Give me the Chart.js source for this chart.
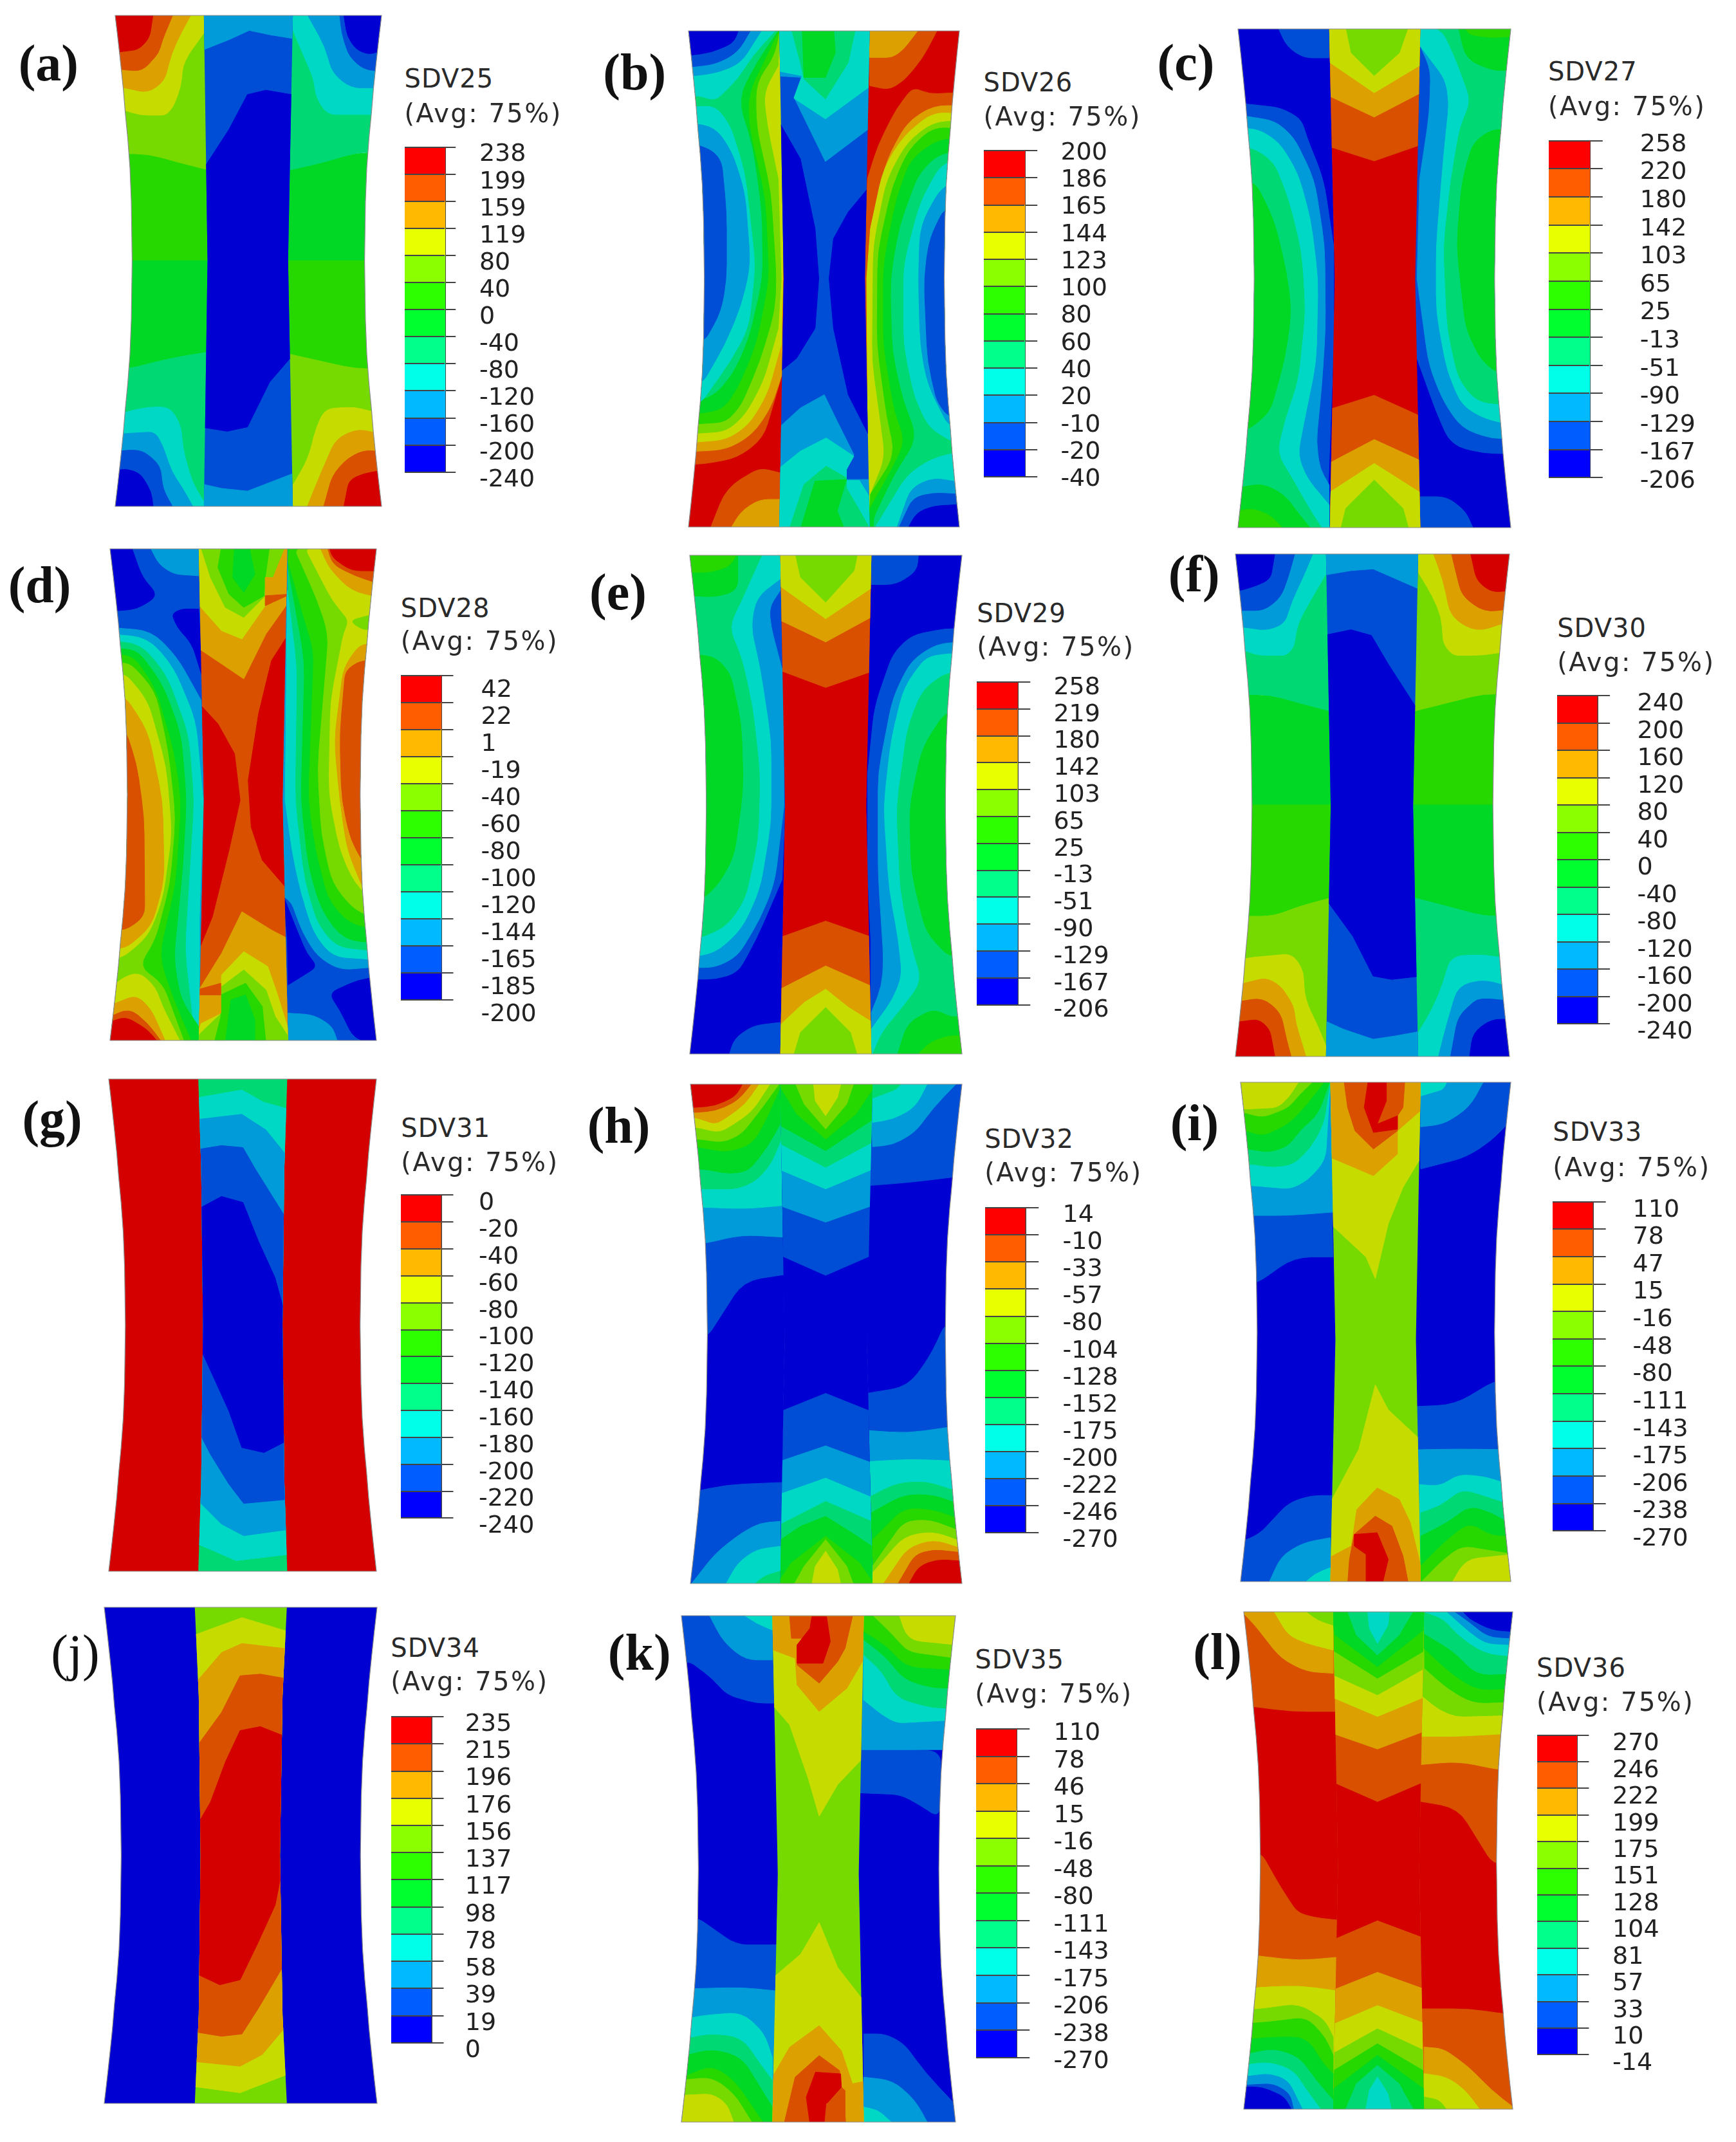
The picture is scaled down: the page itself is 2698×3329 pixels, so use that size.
<!DOCTYPE html>
<html>
<head>
<meta charset="utf-8">
<title>SDV25-SDV36</title>
<script src="https://cdn.jsdelivr.net/npm/chart.js"></script>
<style>
html,body{margin:0;background:#fff}
#page{position:relative;width:2698px;height:3329px;overflow:hidden;background:#fff}
#page canvas{position:absolute}
.letter{position:absolute;font:bold 80px "Liberation Serif",serif;line-height:1;color:#111;transform:translateY(-50%)}
.sdv{position:absolute;font:40px "DejaVu Sans",sans-serif;line-height:1;color:#2a2a2a;letter-spacing:1px;white-space:nowrap;transform:translateY(-50%)}
.sdv.avg{letter-spacing:2.5px}
</style>
</head>
<body>
<div id="page"></div>
<script>
const panelLetters = ['(a)','(b)','(c)','(d)','(e)','(f)','(g)','(h)','(i)','(j)','(k)','(l)'];
const sdvNames = ['SDV25','SDV26','SDV27','SDV28','SDV29','SDV30','SDV31','SDV32','SDV33','SDV34','SDV35','SDV36'];

const ticksA = ['238','199','159','119','80','40','0','-40','-80','-120','-160','-200','-240'];
const ticksB = ['200','186','165','144','123','100','80','60','40','20','-10','-20','-40'];
const ticksC = ['258','220','180','142','103','65','25','-13','-51','-90','-129','-167','-206'];
const ticksD = ['42','22','1','-19','-40','-60','-80','-100','-120','-144','-165','-185','-200'];
const ticksE = ['258','219','180','142','103','65','25','-13','-51','-90','-129','-167','-206'];
const ticksF = ['240','200','160','120','80','40','0','-40','-80','-120','-160','-200','-240'];
const ticksG = ['0','-20','-40','-60','-80','-100','-120','-140','-160','-180','-200','-220','-240'];
const ticksH = ['14','-10','-33','-57','-80','-104','-128','-152','-175','-200','-222','-246','-270'];
const ticksI = ['110','78','47','15','-16','-48','-80','-111','-143','-175','-206','-238','-270'];
const ticksJ = ['235','215','196','176','156','137','117','98','78','58','39','19','0'];
const ticksK = ['110','78','46','15','-16','-48','-80','-111','-143','-175','-206','-238','-270'];
const ticksL = ['270','246','222','199','175','151','128','104','81','57','33','10','-14'];

// contour bands: [level, x,y, x,y, ...] painted in order, later ones on top
// 'mid' marks where the middle ply starts; its first band is the outline of that ply
const bandsA = [
[7, 300,40, 552,40, 562,520, 300,520],
[6, 300,465, 400,465, 480,490, 562,513, 562,785, 300,785],
[8, 300,40, 552,40, 552,100, 510,165, 495,200, 490,260, 470,320, 450,347, 380,347, 330,330, 300,320],
[9, 300,40, 520,40, 490,100, 465,160, 445,245, 400,280, 340,265, 300,260],
[10, 300,40, 470,40, 440,120, 430,160, 385,215, 330,210, 300,205],
[11, 300,40, 415,40, 405,115, 375,150, 335,155, 300,160],
[5, 300,785, 562,785, 562,1060, 480,1075, 420,1090, 350,1110, 300,1110],
[4, 300,1105, 350,1110, 420,1090, 480,1075, 562,1060, 552,1530, 300,1530],
[3, 300,1260, 340,1240, 400,1225, 460,1225, 490,1280, 495,1350, 520,1450, 552,1510, 552,1530, 300,1530],
[2, 300,1310, 335,1305, 420,1300, 440,1340, 465,1420, 495,1470, 525,1530, 300,1530],
[1, 300,1365, 335,1355, 385,1355, 435,1400, 440,1470, 470,1530, 300,1530],
[0, 300,1420, 340,1410, 380,1425, 410,1480, 415,1530, 300,1530],
[4, 780,40, 1040,40, 1040,460, 970,460, 880,490, 780,515],
[5, 780,515, 880,490, 960,462, 1040,460, 1040,785, 780,785],
[6, 780,785, 1040,785, 1040,1110, 960,1110, 880,1090, 780,1065],
[7, 780,1065, 880,1090, 960,1110, 1040,1110, 1040,1530, 793,1530],
[8, 793,1460, 835,1380, 855,1290, 880,1230, 960,1225, 1010,1240, 1040,1240, 1040,1530, 793,1530],
[9, 830,1530, 870,1420, 910,1320, 970,1290, 1040,1310, 1040,1530],
[10, 875,1530, 900,1430, 940,1380, 985,1355, 1040,1360, 1040,1530],
[11, 930,1530, 945,1445, 985,1425, 1040,1415, 1040,1530],
[3, 793,40, 1040,40, 1040,345, 885,345, 855,290, 850,240, 800,110, 793,90],
[2, 830,40, 1040,40, 1040,265, 950,265, 900,220, 880,140],
[1, 880,40, 1040,40, 1040,215, 985,210, 945,170, 925,100, 920,47],
[0, 930,40, 1040,40, 1040,150, 1000,165, 965,150, 940,110],
'mid',
[1, 552,40, 793,40, 780,785, 793,1530, 552,1530, 562,785],
[2, 552,40, 793,40, 790,118, 730,105, 675,92, 620,120, 552,155],
[0, 562,510, 620,390, 670,285, 720,272, 787,287, 780,785, 780,1070, 730,1150, 670,1285, 615,1298, 555,1285, 562,785],
[2, 552,1530, 793,1530, 793,1420, 670,1478, 600,1470, 552,1455]
];
const bandsB = [
[11, 290,45, 555,45, 555,1555, 290,1555],
[10, 290,45, 545,45, 555,800, 548,1100, 500,1280, 430,1340, 340,1358, 290,1360],
[9, 290,45, 545,45, 552,500, 552,800, 550,1090, 520,1190, 470,1270, 400,1315, 290,1322],
[8, 290,45, 545,45, 545,150, 552,500, 553,800, 548,1000, 510,1150, 460,1240, 400,1285, 290,1295],
[7, 290,45, 545,45, 540,160, 500,240, 510,340, 540,500, 548,800, 540,950, 500,1110, 450,1210, 400,1260, 290,1268],
[6, 290,45, 545,45, 530,130, 480,210, 480,340, 520,540, 535,800, 530,900, 490,1050, 440,1180, 400,1232, 290,1240],
[5, 290,45, 545,45, 500,150, 460,240, 460,340, 505,560, 515,800, 480,1000, 430,1130, 390,1195, 290,1212],
[4, 290,45, 545,45, 480,150, 430,260, 470,400, 495,600, 497,800, 460,980, 420,1080, 370,1150, 290,1180],
[3, 290,285, 370,280, 410,340, 450,480, 478,760, 460,950, 410,1050, 330,1175, 290,1180],
[2, 290,330, 370,345, 415,420, 450,540, 465,760, 440,880, 395,1000, 335,1115, 290,1115],
[1, 290,385, 385,425, 400,600, 400,800, 385,900, 340,990, 290,990],
[3, 290,45, 540,45, 470,130, 430,200, 370,265, 325,250, 290,250],
[2, 290,45, 500,45, 440,150, 380,180, 315,190, 290,190],
[1, 290,45, 470,45, 430,120, 370,155, 290,165],
[0, 290,45, 435,45, 420,90, 360,120, 290,130],
[10, 355,1555, 400,1430, 490,1370, 545,1385, 545,1555],
[9, 410,1555, 440,1500, 490,1465, 545,1465, 545,1555],
[11, 780,45, 1040,45, 1040,1555, 780,1555, 775,800],
[10, 788,45, 975,45, 930,140, 880,205, 840,232, 788,220],
[9, 788,45, 925,45, 880,110, 850,135, 788,135],
[10, 1040,240, 950,245, 905,225, 860,290, 810,400, 782,500, 775,800, 785,1555, 1040,1555],
[9, 1040,280, 960,280, 890,330, 835,440, 795,620, 782,800, 785,1555, 1040,1555],
[8, 1040,305, 960,300, 880,370, 825,470, 790,650, 780,800, 785,1555, 1040,1555],
[7, 1040,325, 960,330, 890,390, 835,500, 798,700, 795,1050, 820,1250, 830,1340, 790,1450, 785,1555, 1040,1555],
[6, 1040,350, 960,345, 895,410, 850,520, 810,720, 808,1000, 835,1220, 858,1330, 790,1450, 785,1555, 1040,1555],
[5, 1040,375, 970,385, 900,440, 860,560, 825,760, 825,1000, 855,1200, 885,1290, 850,1370, 790,1490, 785,1555, 1040,1555],
[4, 1040,415, 970,430, 920,490, 870,640, 845,800, 850,1020, 880,1170, 920,1280, 860,1380, 800,1520, 800,1555, 1040,1555],
[3, 1040,435, 980,460, 925,570, 880,760, 880,1000, 910,1160, 950,1250, 1010,1290, 1040,1290],
[2, 1040,495, 980,530, 925,640, 920,800, 925,1000, 945,1120, 1000,1240, 1040,1250],
[1, 1040,590, 990,590, 950,680, 935,800, 945,1050, 970,1170, 1000,1215, 1040,1215],
[3, 1040,1320, 960,1340, 890,1390, 830,1500, 800,1555, 1040,1555],
[2, 1040,1415, 960,1400, 900,1430, 860,1555, 1040,1555],
[1, 1040,1450, 960,1445, 905,1460, 865,1555, 1040,1555],
[0, 1040,1480, 960,1485, 915,1505, 890,1555, 1040,1555],
'mid',
[1, 543,45, 788,45, 775,800, 788,1555, 543,1555, 555,800],
[2, 603,195, 583,255, 668,448, 785,340, 788,45, 543,45, 543,190],
[3, 543,45, 788,45, 785,215, 668,320, 583,258, 605,190, 548,175],
[4, 575,45, 750,45, 730,150, 668,260, 610,200, 600,150],
[5, 605,45, 690,45, 695,120, 668,195, 610,195],
[0, 550,320, 600,440, 640,650, 650,800, 640,950, 590,1040, 553,1085, 555,800],
[0, 778,520, 730,600, 690,680, 678,800, 690,950, 730,1150, 782,1290, 775,800],
[2, 553,1250, 600,1190, 665,1150, 700,1230, 745,1330, 725,1375, 725,1405, 785,1405, 788,1555, 543,1555],
[3, 545,1380, 600,1320, 670,1280, 745,1335, 725,1375, 725,1408, 760,1408, 788,1480, 788,1555, 543,1555],
[4, 570,1555, 610,1420, 670,1365, 725,1400, 725,1430, 770,1540, 775,1555],
[5, 600,1555, 640,1410, 725,1405, 700,1500, 720,1555]
];
const bandsC = [
[0, 225,40, 480,40, 495,800, 482,1550, 225,1550],
[1, 340,40, 480,40, 480,135, 410,135, 365,100],
[1, 225,270, 350,285, 405,320, 420,375, 465,500, 492,700, 492,1000, 485,1200, 478,1410, 480,1550, 225,1550],
[2, 225,305, 335,325, 385,375, 440,500, 468,700, 470,950, 460,1120, 445,1290, 455,1370, 480,1420, 480,1550, 225,1550],
[3, 225,345, 290,350, 345,390, 395,480, 430,620, 450,800, 445,1050, 410,1240, 395,1330, 420,1400, 480,1480, 480,1550, 225,1550],
[4, 225,400, 280,410, 330,450, 370,560, 405,720, 415,900, 395,1110, 360,1220, 338,1325, 380,1400, 420,1480, 460,1550, 225,1550],
[5, 225,500, 280,510, 330,620, 365,780, 378,900, 360,1040, 320,1200, 265,1250, 225,1265],
[5, 225,1430, 300,1415, 360,1450, 400,1510, 430,1550, 225,1550],
[6, 225,1500, 270,1490, 320,1510, 355,1550, 225,1550],
[0, 725,40, 980,40, 980,1550, 725,1550, 713,800],
[1, 727,40, 980,40, 980,1325, 900,1325, 810,1300, 770,1200, 715,1030, 713,800, 720,170],
[1, 727,1455, 800,1455, 850,1500, 870,1550, 727,1550],
[2, 727,40, 980,40, 980,1280, 920,1280, 840,1250, 790,1170, 750,1060, 718,800, 725,500, 752,300, 755,170, 727,100],
[3, 727,40, 980,40, 980,1240, 900,1220, 840,1180, 800,1080, 770,900, 770,700, 790,430, 805,270, 795,200, 727,100],
[4, 760,40, 980,40, 980,1180, 880,1170, 830,1100, 800,950, 790,700, 810,500, 835,340, 865,265, 820,130, 790,60],
[5, 980,350, 920,350, 870,390, 840,500, 825,700, 850,950, 890,1040, 930,1080, 980,1090],
[5, 830,40, 980,40, 980,170, 930,175, 850,140],
[6, 845,40, 980,40, 980,70, 920,75, 860,65],
'mid',
[11, 480,40, 727,40, 713,800, 727,1550, 482,1550, 495,800],
[10, 480,40, 727,40, 720,395, 602,445, 487,400],
[9, 480,40, 727,40, 725,235, 602,313, 483,245],
[8, 480,40, 727,40, 725,150, 602,240, 482,140],
[7, 525,40, 695,40, 670,120, 602,188, 540,120],
[10, 485,1195, 602,1150, 720,1215, 727,1550, 482,1550],
[9, 482,1360, 602,1283, 722,1350, 727,1550, 482,1550],
[8, 482,1450, 602,1355, 725,1450, 727,1550, 482,1550],
[7, 512,1550, 525,1490, 602,1405, 680,1490, 695,1550]
];
const bandsD = [
[1, 290,35, 545,35, 552,800, 538,1530, 290,1530],
[2, 405,35, 538,35, 538,125, 470,120, 430,90],
[0, 290,35, 355,35, 385,130, 430,185, 370,225, 320,230, 290,230],
[0, 465,240, 490,225, 538,225, 548,430, 520,330, 480,280],
[2, 290,280, 410,290, 480,370, 545,500, 552,800, 540,1530, 290,1530],
[3, 290,300, 400,310, 470,400, 530,560, 550,800, 540,1150, 540,1380, 538,1530, 290,1530],
[4, 290,320, 380,330, 450,420, 510,600, 525,800, 500,1250, 525,1500, 530,1530, 290,1530],
[5, 290,345, 370,345, 440,450, 490,600, 505,800, 495,1000, 470,1280, 490,1400, 538,1480, 538,1530, 290,1530],
[6, 290,360, 360,365, 420,460, 470,650, 490,800, 475,1050, 430,1270, 470,1400, 520,1530, 290,1530],
[7, 290,390, 350,385, 420,470, 455,650, 475,850, 460,1050, 420,1220, 375,1300, 440,1350, 500,1530, 290,1530],
[8, 290,420, 340,420, 400,500, 450,700, 465,900, 440,1100, 400,1210, 335,1270, 290,1280],
[8, 290,1390, 320,1340, 375,1315, 420,1360, 440,1420, 490,1530, 290,1530],
[9, 290,480, 340,490, 400,590, 440,800, 445,1040, 410,1180, 340,1245, 290,1245],
[10, 290,590, 340,590, 370,690, 390,850, 392,1150, 340,1190, 290,1190],
[9, 290,1420, 370,1385, 410,1430, 450,1530, 290,1530],
[10, 290,1455, 350,1425, 400,1470, 440,1530, 290,1530],
[11, 290,1470, 340,1450, 400,1490, 430,1530, 290,1530],
[1, 770,35, 1030,35, 1030,1530, 780,1530, 765,800],
[0, 768,1090, 800,1180, 830,1260, 860,1300, 780,1355, 778,1220],
[0, 890,1380, 970,1340, 1030,1330, 1030,1530, 960,1520, 920,1430],
[2, 780,1440, 850,1445, 900,1480, 915,1530, 780,1530],
[2, 770,35, 1030,35, 1030,1300, 920,1310, 860,1270, 820,1200, 790,1110, 770,1090, 765,800],
[3, 778,170, 1030,170, 1030,1280, 900,1270, 850,1200, 815,1080, 790,950, 772,800],
[4, 780,100, 1030,100, 1030,1255, 910,1240, 860,1170, 825,1040, 800,800, 805,400, 780,170],
[5, 780,35, 1030,35, 1030,1230, 930,1220, 870,1130, 835,1000, 815,800, 825,380, 780,100],
[6, 785,35, 1030,35, 1030,1190, 945,1170, 890,1100, 855,950, 835,800, 850,350, 825,260, 780,80],
[7, 820,35, 1030,35, 1030,1160, 960,1130, 900,1050, 870,900, 860,700, 890,300, 860,200, 800,50],
[8, 840,35, 1030,35, 1030,1125, 960,1050, 920,950, 890,780, 895,500, 930,300, 945,260, 900,200, 830,50],
[7, 945,260, 1030,235, 1030,280, 985,290],
[9, 1030,330, 975,330, 930,400, 905,620, 920,800, 940,950, 985,1070, 1030,1080],
[9, 865,35, 1030,35, 1030,190, 950,170, 890,100],
[10, 1030,380, 975,380, 935,410, 920,600, 925,800, 950,920, 985,990, 1030,990],
[10, 885,35, 1030,35, 1030,150, 960,125, 900,90],
[11, 890,35, 1030,35, 1030,110, 950,110, 900,70],
'mid',
[10, 538,35, 778,35, 765,800, 780,1530, 538,1530, 552,800],
[11, 775,290, 735,380, 700,540, 672,740, 680,880, 710,980, 768,1070, 765,800],
[11, 548,505, 590,570, 635,660, 650,800, 620,950, 575,1150, 545,1265, 552,800],
[9, 538,35, 778,35, 775,195, 720,300, 660,435, 600,390, 545,340],
[8, 538,35, 715,35, 718,215, 655,315, 600,290, 540,200],
[7, 555,35, 760,35, 718,185, 660,250, 610,220, 570,130],
[6, 600,35, 730,35, 718,130, 715,185, 660,220, 620,180, 590,100],
[5, 635,40, 675,40, 690,120, 660,175, 630,130],
[9, 718,130, 778,130, 775,180, 718,185],
[10, 718,185, 775,180, 718,215],
[9, 545,1380, 600,1260, 655,1135, 735,1190, 775,1220, 780,1530, 538,1530],
[8, 600,1325, 660,1255, 725,1300, 750,1380, 780,1530, 538,1530, 538,1440, 598,1380],
[7, 600,1360, 660,1310, 720,1370, 745,1450, 780,1530, 540,1530, 555,1500, 600,1440],
[6, 598,1385, 665,1350, 710,1420, 720,1530, 580,1530, 598,1450],
[5, 625,1400, 665,1385, 690,1460, 690,1530, 610,1530],
[9, 538,1385, 598,1385, 598,1440, 555,1470, 538,1530],
[10, 545,1370, 598,1350, 598,1385, 545,1385]
];
const bandsE = [
[0, 295,35, 550,35, 558,800, 545,1555, 295,1555],
[1, 295,35, 550,35, 558,800, 550,1020, 480,1200, 430,1300, 370,1320, 295,1320],
[2, 295,35, 550,35, 545,150, 515,200, 520,260, 553,400, 555,800, 530,1030, 490,1140, 430,1250, 370,1285, 295,1285],
[3, 295,35, 545,35, 545,115, 480,170, 465,260, 490,380, 520,600, 520,850, 490,1050, 440,1170, 370,1240, 295,1255],
[4, 295,35, 500,35, 490,55, 440,180, 405,260, 440,350, 470,500, 490,700, 485,900, 450,1080, 400,1160, 330,1195, 295,1195],
[5, 295,340, 370,350, 410,400, 440,550, 445,750, 420,950, 380,1030, 340,1075, 295,1085],
[5, 295,35, 430,35, 430,150, 370,170, 295,165],
[6, 295,35, 430,35, 410,75, 360,95, 295,95],
[1, 405,1555, 420,1500, 470,1460, 545,1450, 545,1555],
[0, 790,35, 1045,35, 1045,1555, 792,1555, 778,800],
[1, 792,35, 920,35, 915,90, 860,132, 792,132],
[1, 1045,265, 990,265, 900,285, 850,340, 800,500, 782,700, 782,1000, 790,1200, 790,1400, 792,1555, 1045,1555],
[2, 1045,305, 970,310, 900,360, 850,470, 810,700, 810,1000, 825,1260, 820,1340, 792,1420, 792,1555, 1045,1555],
[3, 1045,340, 1000,340, 940,350, 880,440, 845,600, 825,800, 840,1050, 865,1200, 875,1310, 850,1380, 792,1470, 792,1555, 1045,1555],
[4, 1045,395, 990,400, 930,450, 890,560, 860,800, 870,1050, 900,1220, 930,1325, 880,1400, 820,1480, 792,1555, 1045,1555],
[5, 1045,500, 990,520, 930,620, 895,800, 900,1000, 940,1180, 1000,1250, 1045,1250],
[5, 860,1555, 890,1450, 960,1410, 1010,1435, 1045,1430, 1045,1555],
[6, 910,1555, 950,1510, 1000,1490, 1045,1490, 1045,1555],
'mid',
[11, 545,35, 792,35, 778,800, 792,1555, 545,1555, 558,800],
[10, 545,35, 792,35, 785,392, 668,442, 550,388],
[9, 545,35, 792,35, 788,225, 668,305, 548,235],
[8, 545,35, 792,35, 790,135, 668,235, 548,130],
[7, 585,35, 755,35, 745,90, 668,185, 600,110],
[10, 555,1195, 668,1145, 785,1195, 792,1555, 545,1555],
[9, 548,1355, 668,1280, 788,1345, 792,1555, 545,1555],
[8, 545,1470, 610,1390, 668,1350, 730,1405, 790,1455, 792,1555, 545,1555],
[7, 580,1555, 600,1480, 668,1405, 735,1480, 755,1555]
];
const bandsF = [
[4, 220,30, 475,30, 485,515, 400,490, 320,465, 220,465],
[5, 220,465, 320,465, 400,490, 485,515, 485,795, 220,795],
[6, 220,795, 485,795, 485,1075, 400,1100, 330,1130, 220,1130],
[7, 220,1130, 330,1130, 400,1100, 485,1075, 472,1560, 220,1560],
[8, 220,1270, 260,1255, 380,1243, 410,1290, 415,1380, 450,1460, 472,1520, 472,1560, 220,1560],
[9, 220,1340, 310,1315, 350,1340, 385,1400, 390,1450, 420,1560, 220,1560],
[10, 220,1390, 300,1375, 350,1420, 365,1500, 380,1560, 220,1560],
[11, 220,1450, 290,1440, 320,1470, 335,1560, 220,1560],
[3, 220,30, 472,30, 472,100, 430,180, 395,250, 385,320, 365,345, 290,345, 250,330, 220,320],
[2, 220,30, 440,30, 410,110, 380,180, 360,250, 310,270, 250,260, 220,260],
[1, 220,30, 390,30, 370,110, 350,170, 305,210, 250,210, 220,210],
[0, 220,30, 335,30, 322,115, 285,135, 240,150, 220,150],
[7, 720,30, 975,30, 975,465, 900,462, 800,490, 710,515],
[6, 710,515, 800,490, 900,462, 975,465, 975,795, 708,795],
[5, 708,795, 975,795, 975,1130, 900,1130, 800,1100, 712,1075],
[4, 712,1075, 800,1100, 900,1130, 975,1130, 975,1560, 722,1560],
[3, 722,1480, 760,1410, 790,1330, 810,1250, 900,1245, 975,1260, 975,1560, 722,1560],
[2, 775,1560, 800,1450, 830,1340, 900,1320, 975,1345, 975,1560],
[1, 808,1560, 830,1430, 880,1380, 910,1378, 975,1385, 975,1560],
[0, 860,1560, 870,1480, 920,1440, 975,1440, 975,1560],
[8, 722,30, 975,30, 975,330, 900,345, 815,345, 790,310, 785,230, 760,165, 722,95],
[9, 760,30, 975,30, 975,240, 880,275, 810,230, 790,120],
[10, 810,30, 975,30, 975,205, 900,215, 840,165, 825,100],
[11, 862,30, 975,30, 975,150, 920,155, 880,120],
'mid',
[1, 472,30, 722,30, 708,800, 722,1560, 472,1560, 485,800],
[2, 472,30, 722,30, 722,150, 600,85, 540,90, 472,105],
[0, 478,285, 540,268, 595,285, 640,370, 712,515, 708,800, 717,1310, 650,1320, 600,1310, 545,1190, 485,1080, 485,800],
[2, 472,1560, 722,1560, 722,1475, 660,1490, 600,1500, 520,1470, 472,1440]
];
const bandsG = [
[11, 280,20, 1030,20, 1030,1520, 280,1520],
'mid',
[4, 537,25, 778,25, 770,300, 765,770, 770,1240, 778,1520, 537,1520, 545,1240, 550,770, 545,300],
[3, 537,90, 655,65, 715,102, 778,125, 765,770, 778,1460, 640,1480, 537,1425, 550,770],
[2, 537,155, 655,138, 720,185, 770,270, 765,770, 778,1385, 660,1405, 600,1370, 540,1290, 550,770],
[1, 540,245, 600,232, 658,238, 690,300, 768,460, 765,770, 775,1295, 660,1308, 620,1250, 570,1160, 547,1085, 550,770],
[0, 545,425, 600,385, 658,403, 700,520, 745,630, 765,760, 768,1118, 715,1155, 655,1140, 620,1030, 575,920, 550,830]
];
const bandsH = [
[0, 295,25, 550,25, 557,800, 545,1540, 295,1540],
[1, 295,25, 545,25, 555,603, 445,622, 348,790, 295,800],
[1, 295,1260, 400,1235, 550,1228, 545,1540, 295,1540],
[2, 295,25, 545,25, 555,490, 440,483, 345,508, 295,510],
[2, 300,1540, 370,1440, 440,1380, 490,1350, 545,1345, 545,1540],
[3, 295,25, 545,25, 550,395, 450,405, 335,400, 295,400],
[3, 395,1540, 430,1470, 480,1430, 545,1420, 545,1540],
[4, 295,25, 550,25, 550,190, 520,270, 480,320, 430,345, 335,345, 295,345],
[4, 470,1540, 500,1510, 545,1495, 545,1540],
[5, 295,25, 550,25, 550,140, 510,220, 460,290, 410,300, 335,285, 295,285],
[6, 295,25, 550,25, 510,130, 470,210, 400,235, 330,220, 295,215],
[7, 295,25, 545,25, 490,110, 440,180, 390,205, 325,195, 295,195],
[8, 295,25, 520,25, 470,110, 420,150, 380,175, 320,160, 295,160],
[9, 295,25, 490,25, 450,90, 400,130, 370,150, 315,130, 295,130],
[10, 295,25, 470,25, 430,80, 370,110, 315,115, 295,115],
[11, 295,25, 445,25, 425,65, 370,95, 310,100, 295,100],
[0, 780,25, 1045,25, 1045,1540, 795,1540, 780,800],
[1, 795,25, 1045,25, 1045,305, 900,325, 785,335],
[2, 790,25, 1025,25, 960,100, 910,175, 850,212, 795,218],
[3, 795,25, 945,25, 910,100, 850,135, 795,145],
[4, 795,25, 875,25, 860,45, 795,72],
[1, 780,960, 890,940, 950,850, 992,750, 1045,750, 1045,1540, 795,1540],
[2, 785,1072, 890,1080, 1045,1055, 1045,1540, 795,1540],
[3, 788,1165, 900,1158, 1045,1165, 1045,1540, 795,1540],
[4, 790,1270, 860,1230, 940,1225, 1010,1250, 1045,1260, 1045,1540, 795,1540],
[5, 790,1320, 880,1265, 960,1265, 1045,1300, 1045,1540, 795,1540],
[6, 795,1400, 880,1305, 960,1310, 1045,1345, 1045,1540, 795,1540],
[7, 795,1480, 880,1345, 950,1340, 1045,1380, 1045,1540, 795,1540],
[8, 795,1500, 880,1390, 960,1375, 1045,1410, 1045,1540, 795,1540],
[9, 820,1540, 890,1425, 960,1400, 1045,1430, 1045,1540],
[10, 860,1540, 910,1445, 960,1430, 1045,1440, 1045,1540],
[11, 890,1540, 920,1480, 970,1460, 1045,1465, 1045,1540],
'mid',
[0, 545,25, 795,25, 780,800, 795,1540, 545,1540, 557,800],
[1, 545,25, 795,25, 780,545, 668,605, 558,545],
[2, 550,25, 795,25, 783,395, 668,445, 555,395],
[3, 550,25, 795,25, 785,285, 668,345, 552,285],
[4, 548,25, 795,25, 790,200, 668,280, 550,205],
[5, 545,25, 795,25, 792,130, 668,230, 550,150],
[6, 550,25, 795,25, 750,120, 668,195, 590,120],
[7, 585,25, 745,25, 725,90, 668,165, 610,90],
[8, 635,25, 710,25, 700,70, 668,125, 640,80],
[1, 557,1015, 668,960, 780,1015, 795,1540, 545,1540],
[2, 555,1165, 668,1118, 783,1170, 795,1540, 545,1540],
[3, 552,1265, 668,1215, 785,1275, 795,1540, 545,1540],
[4, 548,1360, 668,1285, 790,1350, 795,1540, 545,1540],
[5, 545,1410, 600,1360, 668,1330, 740,1380, 795,1430, 795,1540, 545,1540],
[6, 545,1540, 575,1470, 668,1390, 760,1470, 790,1540],
[7, 580,1540, 610,1480, 668,1400, 725,1480, 745,1540],
[8, 630,1540, 640,1480, 668,1435, 700,1490, 710,1540]
];
const bandsI = [
[0, 235,18, 483,18, 497,800, 483,1535, 235,1535],
[1, 235,18, 483,18, 490,550, 385,550, 290,625, 235,640],
[1, 235,1410, 290,1385, 370,1290, 430,1268, 490,1268, 483,1535, 235,1535],
[2, 235,18, 483,18, 490,415, 370,425, 280,425, 235,425],
[2, 315,1535, 350,1450, 410,1410, 483,1395, 483,1535],
[3, 235,18, 483,18, 470,260, 420,320, 375,345, 270,335, 235,335],
[3, 410,1535, 440,1505, 483,1485, 483,1535],
[4, 235,18, 483,18, 465,150, 430,220, 385,270, 330,280, 265,270, 235,270],
[5, 235,18, 483,18, 450,120, 400,170, 370,215, 320,235, 260,225, 235,225],
[6, 235,18, 470,18, 420,90, 370,150, 300,185, 255,170, 235,170],
[7, 235,18, 440,18, 400,60, 370,100, 300,130, 250,115, 235,115],
[8, 235,18, 400,18, 370,70, 340,100, 250,105, 235,105],
[0, 715,18, 980,18, 980,1535, 728,1535, 715,800],
[1, 722,18, 980,18, 980,130, 920,200, 850,250, 728,285],
[2, 728,18, 900,18, 860,100, 790,150, 728,158],
[3, 728,18, 800,18, 790,45, 728,65],
[1, 715,1000, 820,995, 925,925, 980,915, 980,1535, 728,1535],
[2, 722,1130, 830,1128, 980,1130, 980,1535, 728,1535],
[3, 725,1235, 780,1240, 830,1205, 900,1210, 980,1240, 980,1535, 728,1535],
[4, 728,1320, 780,1300, 840,1250, 900,1270, 980,1300, 980,1535, 728,1535],
[5, 728,1390, 800,1350, 860,1300, 920,1320, 980,1360, 980,1535, 728,1535],
[6, 728,1480, 800,1400, 860,1350, 920,1390, 980,1390, 980,1535, 728,1535],
[7, 728,1530, 790,1460, 840,1420, 980,1445, 980,1535, 730,1535],
[8, 810,1535, 850,1460, 980,1445, 980,1535],
'mid',
[7, 483,18, 728,18, 715,800, 728,1535, 483,1535, 497,800],
[8, 483,18, 728,18, 722,240, 680,340, 640,450, 605,615, 580,550, 495,450, 497,400],
[8, 605,935, 640,1010, 720,1105, 728,1535, 483,1535, 490,1300, 560,1130],
[9, 483,18, 728,18, 725,100, 665,170, 665,240, 600,305, 495,250, 485,100],
[10, 520,18, 685,18, 680,100, 665,125, 665,170, 600,225, 550,170, 530,100],
[11, 585,25, 635,25, 635,80, 610,150, 665,125, 665,165, 600,175, 575,100],
[9, 610,1245, 670,1280, 700,1350, 728,1535, 483,1535, 483,1460, 540,1420, 555,1310],
[10, 548,1385, 605,1330, 650,1360, 680,1450, 695,1535, 530,1535, 535,1460],
[11, 548,1385, 610,1380, 640,1460, 625,1530, 580,1530, 580,1445, 548,1420]
];
const bandsJ = [
[0, 270,20, 1030,20, 1030,1535, 270,1535],
'mid',
[7, 527,25, 777,25, 765,300, 758,780, 765,1260, 777,1535, 527,1535, 538,1260, 543,780, 538,300],
[8, 527,122, 655,65, 777,110, 758,780, 777,1435, 650,1495, 527,1475, 543,780],
[9, 535,270, 600,170, 655,143, 775,160, 760,780, 770,1285, 710,1380, 650,1415, 530,1400, 543,780],
[10, 540,460, 600,350, 650,240, 705,235, 770,250, 760,780, 765,1095, 700,1240, 655,1318, 600,1325, 530,1310, 543,780],
[11, 540,700, 570,620, 610,500, 650,405, 705,393, 765,425, 760,780, 745,930, 700,1040, 650,1155, 595,1170, 540,1135, 540,900]
];
const bandsK = [
[0, 270,15, 530,15, 538,800, 523,1550, 270,1550],
[1, 270,15, 523,15, 530,285, 480,285, 400,260, 360,210, 300,160, 270,165],
[2, 350,15, 523,15, 523,155, 450,155, 390,100],
[3, 440,15, 523,15, 523,65, 480,45],
[1, 270,930, 320,930, 410,1000, 440,1012, 538,1012, 523,1550, 270,1550],
[2, 270,1145, 440,1140, 530,1150, 523,1550, 270,1550],
[3, 270,1240, 330,1225, 440,1215, 500,1275, 523,1350, 523,1550, 270,1550],
[4, 270,1300, 350,1280, 440,1290, 490,1370, 523,1420, 523,1550, 270,1550],
[5, 270,1350, 360,1325, 440,1350, 490,1440, 523,1500, 523,1550, 270,1550],
[6, 270,1415, 360,1375, 420,1420, 470,1500, 500,1550, 270,1550],
[7, 270,1420, 360,1410, 420,1460, 470,1550, 270,1550],
[8, 270,1465, 360,1460, 400,1490, 420,1550, 270,1550],
[0, 757,15, 1025,15, 1025,1550, 771,1550, 757,800],
[1, 771,1280, 830,1280, 880,1310, 940,1400, 1025,1500, 1025,1550, 771,1550],
[2, 771,1410, 850,1420, 910,1480, 945,1550, 771,1550],
[3, 771,1500, 810,1510, 850,1550, 771,1550],
[1, 765,425, 900,425, 980,430, 975,630, 920,590, 870,560, 760,555],
[2, 771,15, 1025,15, 1025,425, 765,425],
[3, 771,15, 1025,15, 1025,335, 860,345, 820,320, 770,275],
[4, 771,15, 1025,15, 1025,300, 960,300, 860,270, 820,190, 771,140],
[5, 771,15, 1025,15, 1025,240, 960,240, 880,215, 830,145, 771,95],
[6, 771,15, 1025,15, 1025,185, 885,175, 830,110, 771,70],
[7, 790,15, 1025,15, 1025,150, 890,130, 850,80],
[8, 865,15, 1025,15, 1025,110, 890,95],
'mid',
[7, 523,15, 771,15, 757,800, 771,1550, 523,1550, 538,800],
[8, 523,15, 771,15, 765,440, 700,530, 650,625, 620,510, 570,350, 527,280],
[8, 650,945, 700,1080, 765,1190, 771,1550, 523,1550, 533,1115, 600,1040],
[9, 523,15, 771,15, 760,150, 725,240, 650,310, 590,230, 585,150, 525,120],
[10, 570,25, 740,25, 720,120, 700,160, 650,225, 590,170, 590,110, 615,90, 575,90],
[11, 630,25, 670,25, 680,100, 660,165, 590,165, 590,110, 625,60],
[9, 523,1550, 530,1420, 570,1320, 650,1255, 710,1330, 740,1430, 771,1420, 771,1550],
[10, 555,1550, 585,1410, 650,1345, 705,1390, 710,1440, 720,1450, 720,1550],
[11, 625,1550, 615,1470, 640,1395, 708,1400, 710,1440, 670,1490, 665,1550],
[10, 665,1550, 670,1490, 715,1460, 722,1550]
];
const bandsL = [
[11, 245,25, 497,25, 505,800, 492,1530, 245,1530],
[10, 245,25, 492,25, 497,330, 380,330, 275,315, 245,315],
[9, 245,25, 492,25, 492,215, 420,210, 350,170, 280,70, 245,30],
[8, 330,25, 492,25, 492,145, 420,125, 370,100],
[7, 415,25, 492,25, 492,70, 450,55],
[10, 245,750, 297,755, 350,860, 395,935, 440,950, 505,958, 495,1530, 245,1530],
[9, 245,1060, 400,1080, 500,1070, 495,1530, 245,1530],
[8, 245,1165, 300,1160, 400,1155, 497,1170, 492,1530, 245,1530],
[7, 245,1230, 300,1225, 400,1210, 470,1260, 492,1310, 492,1530, 245,1530],
[6, 245,1270, 320,1265, 420,1250, 470,1310, 492,1365, 492,1530, 245,1530],
[5, 245,1320, 320,1310, 420,1310, 465,1390, 492,1420, 492,1530, 245,1530],
[4, 245,1365, 330,1345, 400,1370, 445,1440, 492,1500, 492,1530, 245,1530],
[3, 245,1395, 320,1385, 385,1410, 420,1470, 460,1530, 245,1530],
[2, 245,1430, 320,1420, 370,1440, 410,1530, 245,1530],
[1, 245,1455, 330,1450, 375,1480, 385,1530, 245,1530],
[0, 245,1460, 300,1460, 360,1490, 380,1530, 245,1530],
[11, 725,25, 990,25, 990,1530, 738,1530, 725,800],
[10, 725,600, 830,620, 925,790, 990,790, 990,25, 738,25],
[9, 728,490, 830,480, 940,505, 990,505, 990,25, 738,25],
[8, 730,405, 830,405, 990,395, 990,25, 738,25],
[7, 738,25, 990,25, 990,340, 825,345, 780,325, 735,285],
[6, 738,25, 990,25, 990,300, 870,305, 800,260, 740,200],
[5, 738,25, 990,25, 990,260, 880,265, 810,215, 738,140],
[4, 738,25, 990,25, 990,215, 880,220, 820,150, 738,95],
[3, 738,25, 990,25, 990,165, 900,155, 830,100, 790,50, 738,30],
[2, 790,25, 990,25, 990,130, 905,125, 860,90, 800,30],
[1, 815,25, 990,25, 990,110, 910,105, 860,60],
[0, 840,25, 990,25, 990,90, 920,85, 860,50],
[10, 730,1225, 860,1225, 955,1240, 990,1240, 990,1530, 738,1530],
[9, 738,1340, 790,1345, 860,1400, 920,1470, 990,1530, 738,1530],
[8, 738,1420, 800,1430, 850,1470, 890,1530, 738,1530],
[7, 738,1490, 780,1500, 800,1530, 738,1530],
'mid',
[10, 492,25, 738,25, 725,800, 738,1530, 492,1530, 505,800],
[11, 505,545, 612,603, 722,545, 725,1010, 612,958, 505,1015],
[9, 495,25, 738,25, 725,390, 612,443, 500,395],
[8, 495,25, 738,25, 730,285, 612,345, 497,285],
[7, 495,25, 738,25, 735,195, 612,280, 495,215],
[6, 492,25, 738,25, 738,140, 612,230, 495,140],
[5, 495,25, 735,25, 730,80, 612,195, 510,100],
[4, 530,25, 710,25, 670,100, 612,160, 555,100],
[3, 585,25, 645,25, 640,70, 612,125, 590,80],
[9, 500,1170, 612,1115, 725,1165, 738,1530, 492,1530],
[8, 497,1275, 612,1215, 730,1270, 738,1530, 492,1530],
[7, 495,1365, 612,1285, 735,1355, 738,1530, 492,1530],
[6, 492,1420, 612,1330, 738,1420, 738,1530, 492,1530],
[5, 500,1470, 612,1365, 730,1470, 738,1530, 492,1530],
[4, 525,1530, 555,1450, 612,1395, 670,1450, 710,1530],
[3, 580,1530, 590,1470, 612,1430, 640,1480, 650,1530]
];

const allTicks = [ticksA,ticksB,ticksC,ticksD,ticksE,ticksF,ticksG,ticksH,ticksI,ticksJ,ticksK,ticksL];
const allBands = [bandsA,bandsB,bandsC,bandsD,bandsE,bandsF,bandsG,bandsH,bandsI,bandsJ,bandsK,bandsL];

const bodyColors = ['#0000d2','#004ed6','#009bd8','#00d8c6','#00d874','#00d825','#26d800','#76da00','#c6dc00','#dca000','#d85000','#d40000'];
const legendColors = ['#0000ff','#005dff','#00b9ff','#00ffe8','#00ff8b','#00ff2e','#2eff00','#8bff00','#e8ff00','#ffb900','#ff5d00','#ff0000'];
const swatchHeights = [1,1,1,1,1,1,1,1,1,1,1,1];

// side profile of the specimen: [fraction of height, fraction of waist inset]
const waistProfile = [[0,0],[0.05,0.17],[0.1,0.33],[0.15,0.48],[0.2,0.6],[0.25,0.74],[0.31,0.87],[0.38,0.95],[0.5,1],[0.62,0.95],[0.69,0.87],[0.75,0.74],[0.8,0.6],[0.85,0.48],[0.9,0.33],[0.95,0.17],[1,0]];

// layout, all in the units of the crop each panel was read from
const SX = 900/1568, SY = 810/1568;
const crops = [[0,0],[900,20],[1790,20],[0,830],[900,840],[1790,840],[0,1660],[900,1670],[1790,1670],[0,2480],[900,2500],[1790,2490]];
// left, right, top, bottom, left waist, right waist
const frames = [
[312,1033,47,1524,358,987],[297,1031,55,1548,340,990],[233,972,48,1548,277,928],
[298,1019,44,1522,345,975],[300,1037,44,1545,345,992],[227,969,40,1552,272,924],
[295,1019,32,1512,340,975],[302,1037,30,1532,348,992],[240,972,24,1527,285,928],
[282,1021,34,1527,328,976],[277,1019,22,1545,323,974],[250,978,30,1527,295,934]];
// middle ply: left top, right top, left waist, right waist
const midEdges = [
[552,793,562,780],[543,788,555,775],[480,727,495,713],
[538,778,552,765],[545,792,558,778],[472,722,485,708],
[537,778,550,765],[545,795,557,780],[483,728,497,715],
[527,777,543,758],[523,771,538,757],[492,738,505,725]];
// bar left, bar right, bar top, bar bottom, tick end, label x, label shift, title x, title y1, title y2
const legendFrames = [
[1095,1205,442,1420,1233,1297,12,1095,237,340],[1095,1207,415,1397,1240,1303,4,1095,210,312],
[1075,1187,385,1382,1221,1322,6,1073,177,280],[1085,1195,425,1390,1227,1302,23,1085,222,322],
[1077,1188,425,1396,1222,1285,9,1077,218,320],[1098,1207,467,1444,1241,1315,13,1098,263,365],
[1086,1195,382,1349,1228,1297,13,1086,180,282],[1100,1209,400,1378,1245,1310,12,1098,193,295],
[1086,1195,382,1363,1230,1303,13,1086,173,278],[1060,1169,365,1346,1202,1260,12,1058,157,258],
[1075,1185,362,1350,1220,1285,7,1072,152,255],[1043,1151,400,1362,1183,1247,14,1042,197,300]];
// letter x, letter y
const letterSpots = [[50,190],[65,178],[15,150],[22,152],[28,155],[45,100],[60,152],[22,152],[50,145],[138,172],[78,132],[112,150]];

const page = document.getElementById('page');

function addCanvas(left,top,width,height){
  var c = document.createElement('canvas');
  c.width = Math.round(width);
  c.height = Math.round(height);
  c.style.left = Math.round(left)+'px';
  c.style.top = Math.round(top)+'px';
  c.style.width = c.width+'px';
  c.style.height = c.height+'px';
  page.appendChild(c);
  return c;
}

function addText(cls,text,x,y){
  var d = document.createElement('div');
  d.className = cls;
  d.textContent = text;
  d.style.left = x+'px';
  d.style.top = y+'px';
  page.appendChild(d);
  return d;
}

function outlinePath(chart,ctx,outline){
  var sx = chart.scales.x, sy = chart.scales.y;
  ctx.beginPath();
  outline.forEach(function(p,i){
    var px = sx.getPixelForValue(p.x), py = sy.getPixelForValue(p.y);
    if(i==0) ctx.moveTo(px,py); else ctx.lineTo(px,py);
  });
  ctx.closePath();
}

// band corners are rounded unless they sit on the specimen edge or against the middle ply
function bandPath(ctx,ds,pts,f,m){
  var n = pts.length-1;
  ctx.beginPath();
  for(var i=0;i<n;i++){
    var d = ds.data[i], p = pts[i];
    var sharp = ds.kind!='side' || d.x<=f[0] || d.x>=f[1] || d.y<=f[2] || d.y>=f[3] || (d.x>=m[0]-4 && d.x<=m[1]+4);
    if(sharp){ ctx.lineTo(p.x,p.y); continue; }
    var a = pts[(i+n-1)%n], b = pts[(i+1)%n];
    var la = Math.hypot(a.x-p.x,a.y-p.y), lb = Math.hypot(b.x-p.x,b.y-p.y);
    var cut = Math.min(28,la*0.45,lb*0.45);
    ctx.lineTo(p.x+(a.x-p.x)*cut/la,p.y+(a.y-p.y)*cut/la);
    ctx.quadraticCurveTo(p.x,p.y,p.x+(b.x-p.x)*cut/lb,p.y+(b.y-p.y)*cut/lb);
  }
  ctx.closePath();
}

// fills each polygon dataset, and keeps the bands inside the specimen outline
const contourPlugin = {
  id:'contour',
  beforeDatasetsDraw:function(chart,args,opts){
    chart.ctx.save();
    outlinePath(chart,chart.ctx,opts.outline);
    chart.ctx.clip();
  },
  beforeDatasetDraw:function(chart,args,opts){
    var ctx = chart.ctx, ds = chart.data.datasets[args.index];
    bandPath(ctx,ds,args.meta.data,opts.frame,opts.mid);
    ctx.fillStyle = ds.backgroundColor;
    ctx.fill();
    if(ds.kind=='midBase'){
      ctx.clip();
    }else{
      ctx.strokeStyle = ds.backgroundColor;
      ctx.lineWidth = 1;
      ctx.stroke();
    }
  },
  afterDatasetsDraw:function(chart,args,opts){
    var ctx = chart.ctx;
    ctx.restore();
    outlinePath(chart,ctx,opts.outline);
    ctx.strokeStyle = '#8c8c8c';
    ctx.lineWidth = 1.2;
    ctx.stroke();
  }
};

function contourChart(i){
  var f = frames[i], crop = crops[i], m = midEdges[i], pad = 3;
  var left = crop[0]+f[0]*SX-pad, top = crop[1]+f[2]*SY-pad;
  var canvas = addCanvas(left,top,(f[1]-f[0])*SX+2*pad,(f[3]-f[2])*SY+2*pad);
  var h = f[3]-f[2];
  var outline = [];
  waistProfile.forEach(function(w){ outline.push({x:f[0]+(f[4]-f[0])*w[1],y:f[2]+h*w[0]}); });
  waistProfile.slice().reverse().forEach(function(w){ outline.push({x:f[1]-(f[1]-f[5])*w[1],y:f[2]+h*w[0]}); });
  var datasets = [], kind = 'side';
  allBands[i].forEach(function(b){
    if(b=='mid'){ kind = 'midBase'; return; }
    var pts = [];
    for(var k=1;k<b.length;k+=2){
      var x = b[k];
      // middle ply bands run past its edge, the clip trims them
      if(kind=='mid' && x<=m[2]+6) x -= 12;
      if(kind=='mid' && x>=m[3]-6) x += 12;
      pts.push({x:x,y:b[k+1]});
    }
    pts.push(pts[0]);
    datasets.push({data:pts,kind:kind,showLine:false,backgroundColor:bodyColors[b[0]],pointRadius:0});
    if(kind=='midBase') kind = 'mid';
  });
  // chart.js paints the first dataset last, so the list goes in reversed
  datasets.reverse();
  new Chart(canvas,{
    type:'scatter',
    data:{datasets:datasets},
    plugins:[contourPlugin],
    options:{
      responsive:false,animation:false,events:[],
      layout:{padding:pad},
      plugins:{legend:{display:false},tooltip:{enabled:false},contour:{outline:outline,frame:f,mid:m}},
      scales:{
        x:{type:'linear',display:false,min:f[0],max:f[1]},
        y:{type:'linear',display:false,reverse:true,min:f[2],max:f[3]}
      }
    }
  });
}

function legendChart(i){
  var f = legendFrames[i], crop = crops[i], labels = allTicks[i];
  var padBottom = 60, width = 330;
  var barW = (f[1]-f[0])*SX, barH = (f[3]-f[2])*SY, barTop = crop[1]+f[2]*SY;
  var canvas = addCanvas(crop[0]+f[0]*SX,barTop-30,width,barH+170);
  var chart = new Chart(canvas,{
    type:'bar',
    data:{
      labels:[sdvNames[i]],
      datasets:swatchHeights.map(function(v,k){
        return {data:[v],backgroundColor:legendColors[k],barPercentage:1,categoryPercentage:1,borderWidth:0};
      })
    },
    options:{
      responsive:false,animation:false,events:[],
      layout:{autoPadding:false,padding:{top:30,bottom:padBottom,left:0,right:0}},
      plugins:{legend:{display:false},tooltip:{enabled:false}},
      scales:{
        x:{stacked:true,display:false},
        y:{
          stacked:true,position:'right',min:0,max:12,
          afterFit:function(s){ s.width = width-barW; },
          border:{display:true,color:'#444',width:2},
          grid:{z:1,color:'#444',lineWidth:2,tickLength:(f[4]-f[1])*SX},
          ticks:{
            stepSize:1,autoSkip:false,
            padding:(f[5]-f[4])*SX,labelOffset:f[6],
            color:'#222',font:{family:'"DejaVu Sans"',size:38},
            callback:function(v){ return labels[12-v]; }
          }
        }
      }
    }
  });
  // the axis takes some room of its own, so fit the plot area to the bar afterwards
  var area = chart.chartArea;
  chart.options.layout.padding.bottom = padBottom+(area.bottom-area.top)-barH;
  chart.update();
  canvas.style.top = Math.round(barTop-chart.chartArea.top)+'px';
  addText('sdv',sdvNames[i],crop[0]+f[7]*SX,crop[1]+f[8]*SY);
  addText('sdv avg','(Avg: 75%)',crop[0]+f[7]*SX,crop[1]+f[9]*SY);
}

panelLetters.forEach(function(letter,i){
  contourChart(i);
  legendChart(i);
  var d = addText('letter',letter,crops[i][0]+letterSpots[i][0]*SX,crops[i][1]+letterSpots[i][1]*SY);
  if(i==9) d.style.fontWeight = 'normal';
});
</script>
</body>
</html>
